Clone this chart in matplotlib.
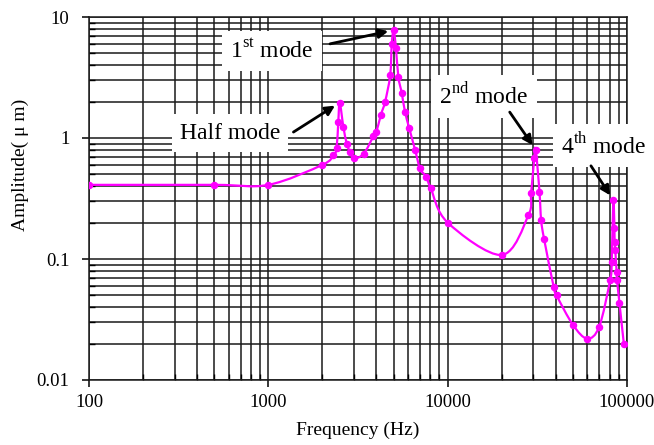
import numpy as np
import matplotlib.pyplot as plt
from matplotlib.path import Path
from matplotlib.patches import PathPatch
from matplotlib.ticker import FixedLocator, LogLocator, NullFormatter

plt.rcParams['font.family'] = ['Liberation Serif', 'DejaVu Serif']
plt.rcParams['mathtext.fontset'] = 'custom'
plt.rcParams['mathtext.rm'] = 'Liberation Serif'

# measured response
freq = [100, 500, 1000, 2000, 2300, 2400, 2455, 2500, 2620, 2735, 2850, 3000,
        3400, 3850, 4000, 4240, 4480, 4780, 4880, 5000, 5150, 5310, 5550,
        5780, 6110, 6580, 7010, 7580, 8050, 10000, 20000, 28200, 29200,
        30400, 31000, 32500, 33200, 34500, 39000, 40500, 50000, 60000,
        70000, 80500, 82200, 83900, 85100, 85300, 86000, 87500, 88000,
        90800, 96000]
amp = [0.41, 0.41, 0.41, 0.60, 0.72, 0.82, 1.36, 1.96, 1.24, 0.90, 0.77, 0.68,
       0.74, 1.03, 1.12, 1.55, 2.0, 3.3, 6.0, 7.8, 5.5, 3.2, 2.34,
       1.65, 1.2, 0.80, 0.56, 0.48, 0.384, 0.2, 0.108, 0.23, 0.35,
       0.68, 0.80, 0.36, 0.21, 0.146, 0.059, 0.050, 0.0285, 0.022,
       0.0276, 0.067, 0.095, 0.307, 0.179, 0.139, 0.119, 0.0785, 0.067,
       0.043, 0.020]

x_ticks = [100, 1000, 10000, 100000]
x_labels = ['100', '1000', '10000', '100000']
y_ticks = [0.01, 0.1, 1, 10]
y_labels = ['0.01', '0.1', '1', '10']

mode_names = ['Half mode', '1$^{\\rm st}$ mode', '2$^{\\rm nd}$ mode', '4$^{\\rm th}$ mode']
mode_freq = [2500, 5000, 31000, 83900]
# label centre and arrow tail, in axes fraction
label_pos = [(0.262, 0.680), (0.340, 0.906), (0.734, 0.782), (0.957, 0.645)]
arrow_tail = [(0.380, 0.683), (0.448, 0.926), (0.782, 0.738), (0.933, 0.590)]


def smooth_path(x, y):
    # Catmull-Rom through the points in log-log space, as cubic Beziers
    p = np.column_stack([np.log10(x), np.log10(y)])
    ext = np.vstack([p[0], p, p[-1]])
    verts = [p[0]]
    for i in range(len(p) - 1):
        p0, p1, p2, p3 = ext[i], ext[i + 1], ext[i + 2], ext[i + 3]
        verts += [p1 + (p2 - p0) / 6, p2 - (p3 - p1) / 6, p2]
    codes = [Path.MOVETO] + [Path.CURVE4] * (3 * (len(p) - 1))
    return Path(10 ** np.array(verts), codes)


fig = plt.figure(figsize=(6.54, 4.45), dpi=100)
ax = fig.add_axes([89 / 654, 1 - 380 / 445, 538 / 654, 363 / 445])
ax.set_xscale('log')
ax.set_yscale('log')
ax.set_xlim(100, 100000)
ax.set_ylim(0.01, 10)

ax.add_patch(PathPatch(smooth_path(freq, amp), fill=False,
                       edgecolor='#ff00ff', lw=1.6, zorder=4))
ax.plot(freq, amp, 'o', color='#ff00ff', ms=4.4, zorder=5)

ax.xaxis.set_major_locator(FixedLocator(x_ticks))
ax.set_xticklabels(x_labels)
ax.yaxis.set_major_locator(FixedLocator(y_ticks))
ax.set_yticklabels(y_labels)
ax.xaxis.set_minor_locator(LogLocator(base=10, subs=np.arange(2, 10)))
ax.yaxis.set_minor_locator(LogLocator(base=10, subs=np.arange(2, 10)))
ax.xaxis.set_minor_formatter(NullFormatter())
ax.yaxis.set_minor_formatter(NullFormatter())

ax.grid(which='both', color='#1a1a1a', lw=1.1)
ax.set_axisbelow(True)
ax.tick_params(which='major', direction='out', length=5, width=1.1,
               labelsize=13.5)
ax.tick_params(axis='x', which='major', pad=5)
ax.tick_params(axis='y', which='major', pad=9)
ax.tick_params(which='minor', direction='in', length=4, width=1.0)
for s in ax.spines.values():
    s.set_color('#1a1a1a')
    s.set_linewidth(1.1)

ax.set_xlabel('Frequency (Hz)', fontsize=14)
ax.xaxis.set_label_coords(0.5, -0.115)
fig.text(20 / 654, 1 - 165 / 445, 'Amplitude( μ m)', rotation=90,
         ha='center', va='center', fontsize=14)

for name, f, (tx, ty), (ax0, ay0) in zip(mode_names, mode_freq, label_pos, arrow_tail):
    a = amp[freq.index(f)]
    ax.annotate('', xy=(f, a), xytext=(ax0, ay0), textcoords='axes fraction',
                arrowprops=dict(arrowstyle='-|>', color='black', lw=2,
                                mutation_scale=14, shrinkA=0, shrinkB=4),
                zorder=6)
    ax.text(tx, ty, name, transform=ax.transAxes, ha='center', va='center',
            fontsize=17, zorder=3, clip_on=False,
            bbox=dict(facecolor='white', edgecolor='none', pad=6))

fig.savefig('out.png', dpi=100)
